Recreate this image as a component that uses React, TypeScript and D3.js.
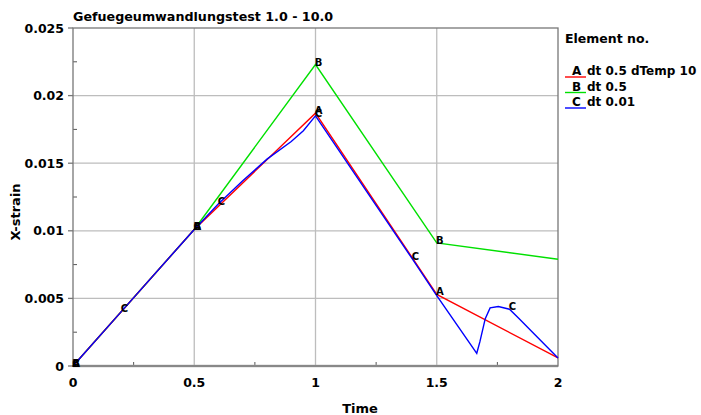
import React, { useEffect, useRef } from 'react';
import * as d3 from 'd3';

// Element A: dt 0.5 dTemp 10
const timeA = [0, 0.5, 1.0, 1.5, 2.0];
const strainA = [0, 0.0101, 0.0187, 0.0053, 0.0006];
const labelTimesA = [0, 0.5, 1.0, 1.5];

// Element B: dt 0.5
const timeB = [0, 0.5, 1.0, 1.5, 2.0];
const strainB = [0, 0.0101, 0.0223, 0.0091, 0.0079];
const labelTimesB = [0, 0.5, 1.0, 1.5];

// Element C: dt 0.01
const timeC = [0, 0.2, 0.5, 0.6, 0.7, 0.8, 0.9, 0.95, 1.0, 1.4, 1.5, 1.665, 1.678, 1.7, 1.72, 1.754, 1.8, 1.84, 1.9, 1.95, 2.0];
const strainC = [0, 0.00404, 0.0101, 0.0120, 0.0137, 0.0153, 0.0166, 0.0174, 0.0185, 0.0079, 0.0052, 0.00094, 0.0018, 0.0035, 0.0043, 0.0044, 0.0042, 0.0035, 0.0024, 0.0015, 0.0006];
const labelTimesC = [0, 0.2, 0.5, 0.6, 1.0, 1.4, 1.8];

const xTicks = [0, 0.5, 1, 1.5, 2];
const yTicks = [0, 0.005, 0.01, 0.015, 0.02, 0.025];

const series = [
  { key: 'A', name: 'dt 0.5 dTemp 10', color: '#ff0000', t: timeA, v: strainA, labels: labelTimesA },
  { key: 'B', name: 'dt 0.5', color: '#00e000', t: timeB, v: strainB, labels: labelTimesB },
  { key: 'C', name: 'dt 0.01', color: '#0000ff', t: timeC, v: strainC, labels: labelTimesC },
];

const App: React.FC = () => {
  const svgRef = useRef<SVGSVGElement>(null);

  useEffect(() => {
    if (!svgRef.current) return;
    const svg = d3.select(svgRef.current);
    svg.selectAll('*').remove();

    const margin = { top: 28, left: 73, right: 143, bottom: 49 };
    const W = 701;
    const H = 415;
    const x = d3.scaleLinear().domain([0, 2]).range([margin.left, W - margin.right]);
    const y = d3.scaleLinear().domain([0, 0.025]).range([H - margin.bottom, margin.top]);
    const font = 'DejaVu Sans, sans-serif';

    // grid
    const grid = svg.append('g');
    grid.selectAll('.gx').data(xTicks.slice(1, -1)).enter().append('line')
      .attr('x1', d => x(d)).attr('x2', d => x(d))
      .attr('y1', y(0)).attr('y2', y(0.025))
      .attr('stroke', '#bdbdbd').attr('stroke-width', 1.3);
    grid.selectAll('.gy').data(yTicks.slice(1, -1)).enter().append('line')
      .attr('y1', d => y(d)).attr('y2', d => y(d))
      .attr('x1', x(0)).attr('x2', x(2))
      .attr('stroke', '#bdbdbd').attr('stroke-width', 1.3);

    // minor ticks
    const minorX = d3.range(0.25, 2, 0.5);
    svg.selectAll('.mx').data(minorX).enter().append('line')
      .attr('x1', d => x(d)).attr('x2', d => x(d))
      .attr('y1', y(0)).attr('y2', y(0) - 4)
      .attr('stroke', '#555').attr('stroke-width', 1);
    const minorY = d3.range(0.0025, 0.025, 0.005);
    svg.selectAll('.my').data(minorY).enter().append('line')
      .attr('y1', d => y(d)).attr('y2', d => y(d))
      .attr('x1', x(0)).attr('x2', x(0) + 4)
      .attr('stroke', '#555').attr('stroke-width', 1);

    // frame
    svg.append('line').attr('x1', x(0)).attr('x2', x(2)).attr('y1', y(0)).attr('y2', y(0))
      .attr('stroke', '#aaa').attr('stroke-width', 2.5);
    svg.append('rect').attr('x', x(0)).attr('y', y(0.025))
      .attr('width', x(2) - x(0)).attr('height', y(0) - y(0.025))
      .attr('fill', 'none').attr('stroke', '#777').attr('stroke-width', 1.3);

    // major y ticks outward
    svg.selectAll('.ty').data(yTicks).enter().append('line')
      .attr('y1', d => y(d)).attr('y2', d => y(d))
      .attr('x1', x(0) - 5).attr('x2', x(0))
      .attr('stroke', '#777').attr('stroke-width', 1.3);

    // tick labels
    svg.selectAll('.lx').data(xTicks).enter().append('text')
      .attr('x', d => x(d)).attr('y', y(0) + 21)
      .attr('text-anchor', 'middle')
      .attr('font-family', font).attr('font-weight', 'bold').attr('font-size', 12.5)
      .text(d => String(d));
    svg.selectAll('.ly').data(yTicks).enter().append('text')
      .attr('x', x(0) - 9).attr('y', d => y(d) + 4.5)
      .attr('text-anchor', 'end')
      .attr('font-family', font).attr('font-weight', 'bold').attr('font-size', 12.5)
      .text(d => String(d));

    // axis titles
    svg.append('text').attr('x', 360).attr('y', 413)
      .attr('text-anchor', 'middle')
      .attr('font-family', font).attr('font-weight', 'bold').attr('font-size', 13)
      .text('Time');
    svg.append('text')
      .attr('transform', `translate(20,212) rotate(-90)`)
      .attr('text-anchor', 'middle')
      .attr('font-family', font).attr('font-weight', 'bold').attr('font-size', 13)
      .text('X-strain');
    svg.append('text').attr('x', x(0)).attr('y', 21)
      .attr('font-family', font).attr('font-weight', 'bold').attr('font-size', 12.7)
      .text('Gefuegeumwandlungstest 1.0 - 10.0');

    // lines: B, A, then C on top
    const order = [series[1], series[0], series[2]];
    order.forEach(s => {
      const pts = s.t.map((t, i) => [t, s.v[i]] as [number, number]);
      const line = d3.line<[number, number]>().x(d => x(d[0])).y(d => y(d[1]));
      svg.append('path').datum(pts).attr('d', line)
        .attr('fill', 'none').attr('stroke', s.color).attr('stroke-width', 1.4);
    });

    // marker letters
    series.forEach(s => {
      const pts = s.labels.map(t => [t, s.v[s.t.indexOf(t)]] as [number, number]);
      svg.selectAll(`.lab${s.key}`).data(pts).enter().append('text')
        .attr('x', d => x(d[0]) + 3).attr('y', d => y(d[1]) + 1)
        .attr('text-anchor', 'middle')
        .attr('font-family', font).attr('font-weight', 'bold').attr('font-size', 10)
        .text(s.key);
    });

    // legend
    const lg = svg.append('g').attr('transform', `translate(${x(2) + 7},0)`);
    lg.append('text').attr('x', 0).attr('y', 43)
      .attr('font-family', font).attr('font-weight', 'bold').attr('font-size', 12.5)
      .text('Element no.');
    series.forEach((s, i) => {
      const yy = 75 + i * 15.5;
      lg.append('line').attr('x1', 0).attr('x2', 21).attr('y1', yy + 2).attr('y2', yy + 2)
        .attr('stroke', s.color).attr('stroke-width', 1.4);
      lg.append('text').attr('x', 7).attr('y', yy)
        .attr('font-family', font).attr('font-weight', 'bold').attr('font-size', 12)
        .text(s.key);
      lg.append('text').attr('x', 22).attr('y', yy)
        .attr('font-family', font).attr('font-weight', 'bold').attr('font-size', 12)
        .text(s.name);
    });
  }, []);

  return (
    <svg
      ref={svgRef}
      width={701}
      height={415}
      style={{ position: 'absolute', left: 0, top: 0, background: '#fff' }}
    />
  );
};

export default App;
